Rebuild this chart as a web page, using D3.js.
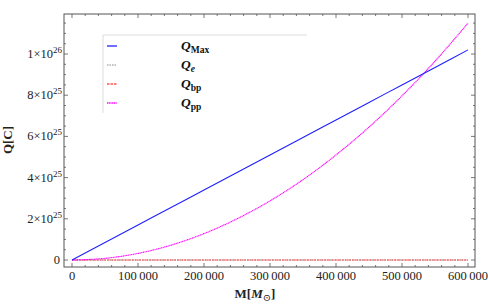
<!DOCTYPE html>
<html>
<head>
<meta charset="utf-8">
<script src="https://cdn.jsdelivr.net/npm/d3@7.9.0/dist/d3.min.js"></script>
<style>
  body { margin: 0; background: #fff; }
  svg { font-family: "Liberation Serif", "DejaVu Serif", serif; }
</style>
</head>
<body>
<svg id="chart" width="488" height="304"></svg>
<script>
// masses in solar masses
const mass = [0, 50000, 100000, 150000, 200000, 250000, 300000, 350000, 400000, 450000, 500000, 550000, 600000];
// charges in C
const qMax = [0, 0.85e25, 1.7e25, 2.55e25, 3.4e25, 4.25e25, 5.1e25, 5.95e25, 6.8e25, 7.65e25, 8.5e25, 9.35e25, 10.2e25];
const qE   = [0, 0, 0, 0, 0, 0, 0, 0, 0, 0, 0, 0, 0];
const qBp  = [0, 0, 0, 0, 0, 0, 0, 0, 0, 0, 0, 0, 0];
const qPp  = [0, 0.08e25, 0.32e25, 0.72e25, 1.28e25, 2.0e25, 2.87e25, 3.9e25, 5.1e25, 6.45e25, 7.97e25, 9.65e25, 11.5e25];

const xTicks = [0, 100000, 200000, 300000, 400000, 500000, 600000];
const yTicks = [0, 2e25, 4e25, 6e25, 8e25, 1e26];

const series = [
  { key: 'Max', values: qMax, color: '#1f1fff', dash: null, width: 1.1 },
  { key: 'e', values: qE, color: '#888888', dash: '1.5,1', width: 1 },
  { key: 'bp', values: qBp, color: '#ff5555', dash: '2.5,1', width: 1.2 },
  { key: 'pp', values: qPp, color: '#ff00ff', dash: '1.2,0.5', width: 1.1 }
];

const svg = d3.select('#chart');
const frame = { left: 64, right: 475, top: 14, bottom: 267 };

const x = d3.scaleLinear().domain([0, 600000]).range([72, 468]);
const y = d3.scaleLinear().domain([0, 1e26]).range([260, 54]);

const fmtX = d => d3.format(',')(d).replace(/,/g, '\u2009');

// frame
svg.append('rect')
  .attr('x', frame.left).attr('y', frame.top)
  .attr('width', frame.right - frame.left).attr('height', frame.bottom - frame.top)
  .attr('fill', 'none').attr('stroke', '#555').attr('stroke-width', 1);

// ticks on the frame, pointing inward
const xMinor = d3.range(-20000, 620001, 20000).filter(v => x(v) > frame.left && x(v) < frame.right);
const yMinor = d3.range(-5e24, 1.3e26, 5e24).filter(v => y(v) > frame.top && y(v) < frame.bottom);

const ticks = svg.append('g').attr('stroke', '#555').attr('stroke-width', 0.8);
xMinor.forEach(v => {
  const len = xTicks.includes(v) ? 4 : 2;
  ticks.append('line').attr('x1', x(v)).attr('x2', x(v)).attr('y1', frame.bottom).attr('y2', frame.bottom - len);
  ticks.append('line').attr('x1', x(v)).attr('x2', x(v)).attr('y1', frame.top).attr('y2', frame.top + len);
});
yMinor.forEach(v => {
  const major = yTicks.some(t => Math.abs(t - v) < 1e20);
  const len = major ? 4 : 2;
  ticks.append('line').attr('y1', y(v)).attr('y2', y(v)).attr('x1', frame.left).attr('x2', frame.left + len);
  ticks.append('line').attr('y1', y(v)).attr('y2', y(v)).attr('x1', frame.right).attr('x2', frame.right - len);
});

// x labels
svg.append('g').selectAll('text')
  .data(xTicks)
  .join('text')
  .attr('x', d => x(d)).attr('y', 280)
  .attr('text-anchor', 'middle')
  .attr('font-size', 12.5)
  .attr('fill', '#222')
  .text(fmtX);

// y labels
const yLab = svg.append('g').selectAll('text')
  .data(yTicks)
  .join('text')
  .attr('x', 62).attr('y', d => y(d) + 4)
  .attr('text-anchor', 'end')
  .attr('font-size', 12.5)
  .attr('fill', '#222');
yLab.each(function (d) {
  const t = d3.select(this);
  if (d === 0) { t.attr('x', 60).text('0'); return; }
  const e = Math.floor(Math.log10(d) + 1e-9);
  const m = Math.round(d / Math.pow(10, e));
  t.append('tspan').text(m + '\u00d710');
  t.append('tspan').attr('dy', -5).attr('font-size', 9).text(e);
});

// axis titles
const xt = svg.append('text')
  .attr('x', 255).attr('y', 298)
  .attr('text-anchor', 'middle')
  .attr('font-size', 13)
  .attr('fill', '#222');
xt.append('tspan').attr('font-weight', 'bold').text('M[');
xt.append('tspan').attr('font-style', 'italic').attr('font-weight', 'bold').text('M');
xt.append('tspan').attr('dy', 3).attr('font-size', 10).text('\u2299');
xt.append('tspan').attr('dy', -3).attr('font-weight', 'bold').text(']');

svg.append('text')
  .attr('transform', 'translate(12,140) rotate(-90)')
  .attr('text-anchor', 'middle')
  .attr('font-size', 13)
  .attr('font-weight', 'bold')
  .attr('fill', '#222')
  .text('Q[C]');

// lines
const line = d3.line()
  .x((d, i) => x(mass[i]))
  .y(d => y(d))
  .curve(d3.curveMonotoneX);

const order = [series[1], series[2], series[3], series[0]];
svg.append('g').selectAll('path')
  .data(order)
  .join('path')
  .attr('d', s => line(s.values))
  .attr('fill', 'none')
  .attr('stroke', s => s.color)
  .attr('stroke-width', s => s.width)
  .attr('stroke-dasharray', s => s.dash);

// legend
const lg = svg.append('g');
lg.append('path')
  .attr('d', 'M103,113V35H307')
  .attr('fill', 'none').attr('stroke', '#ddd').attr('stroke-width', 1);
series.forEach((s, i) => {
  const yy = 46 + i * 19;
  lg.append('line')
    .attr('x1', 107).attr('x2', 117).attr('y1', yy).attr('y2', yy)
    .attr('stroke', s.color).attr('stroke-width', s.width + 0.2)
    .attr('stroke-dasharray', s.dash);
  const t = lg.append('text')
    .attr('x', 181).attr('y', yy + 4)
    .attr('font-size', 13.5)
    .attr('font-weight', 'bold')
    .attr('fill', '#111');
  t.append('tspan').attr('font-style', 'italic').text('Q');
  t.append('tspan').attr('dy', 3).attr('font-size', 9.5)
    .attr('font-style', s.key === 'e' ? 'italic' : 'normal')
    .text(s.key);
});
</script>
</body>
</html>
